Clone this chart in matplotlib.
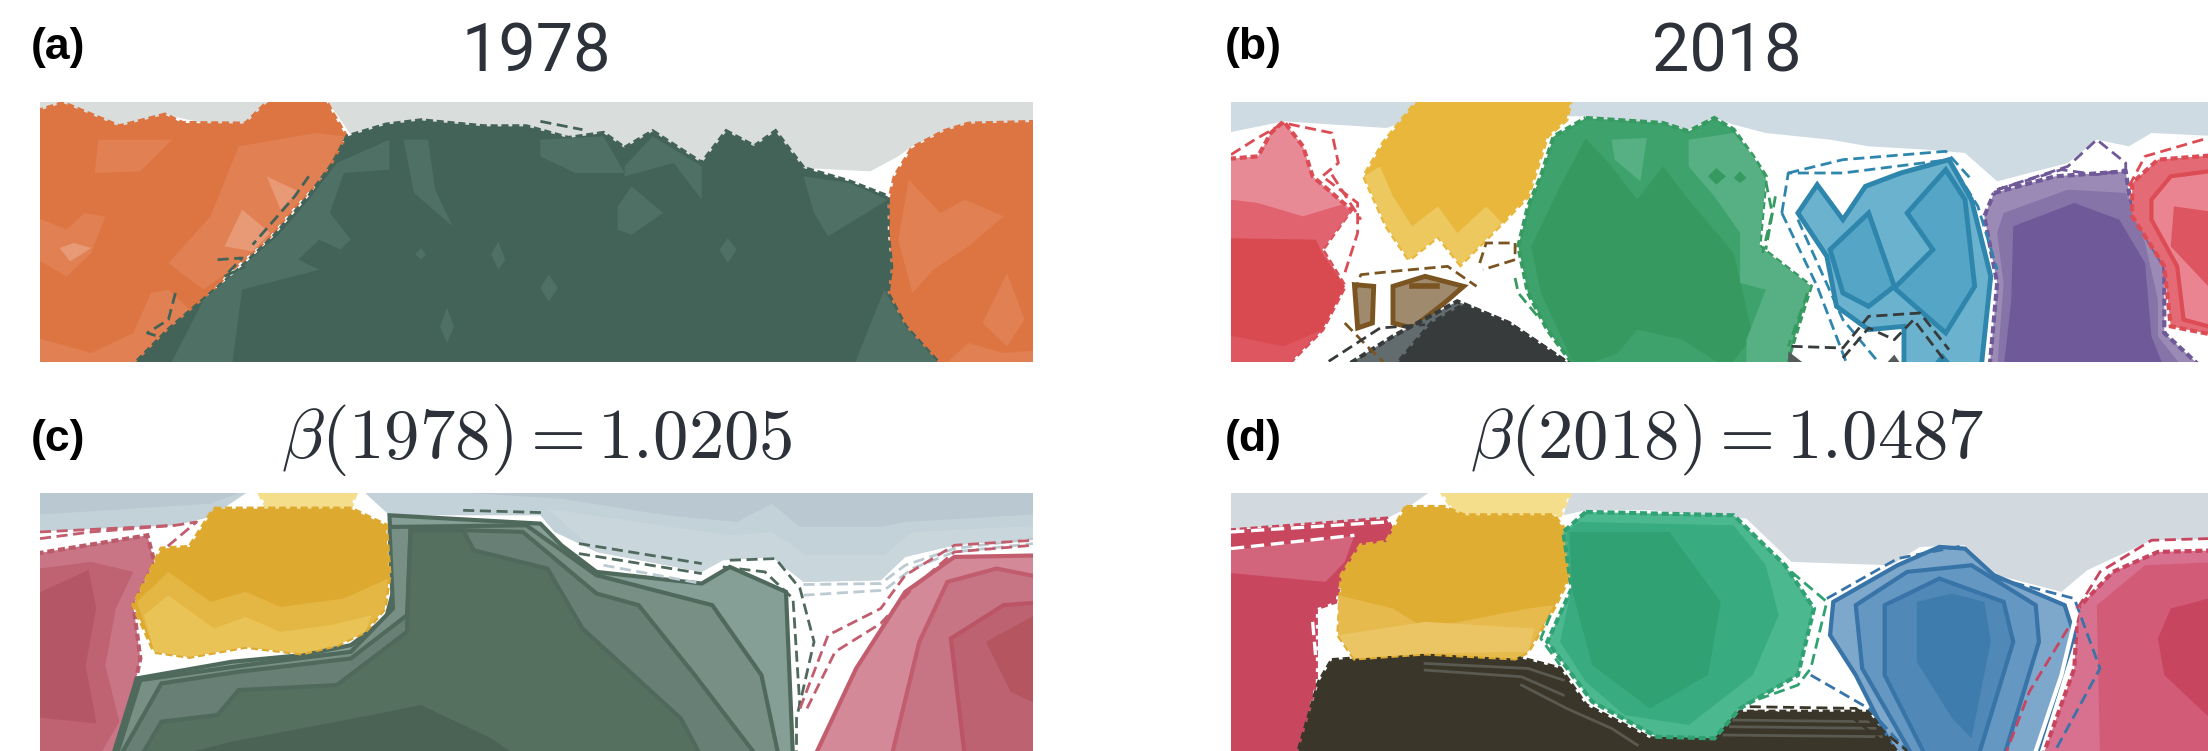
import matplotlib
matplotlib.use("Agg")
import matplotlib.pyplot as plt

plt.rcParams['mathtext.fontset'] = 'cm'

W, H = 2208, 751
TITLES = ["1978", "2018", r"$\beta(1978)=1.0205$", r"$\beta(2018)=1.0487$"]
LABELS = ["(a)", "(b)", "(c)", "(d)"]

# ---- Panel (a) region outlines, map units
A_BAND = [(57,307),(1472,307),(1472,366),(1380,372),(1345,395),(1300,440),(1280,470),(1240,515),(1145,505),(1105,395),(1075,440),(1035,395),(1000,490),(930,395),(890,445),(860,400),(810,415),(750,380),(690,380),(600,362),(550,375),(500,405),(480,345),(460,307)]
A_BAND_L = [(57,307),(460,307),(460,345),(380,310),(350,375),(300,375),(235,345),(170,380),(90,310),(57,345)]
A_ORANGE_L = [(57,345),(90,310),(130,345),(170,380),(235,345),(260,370),(350,372),(380,310),(460,307),(475,345),(492,405),(480,470),(460,530),(420,620),(380,720),(330,810),(290,900),(240,990),(185,1087),(57,1087)]
A_OL_1 = [(57,1005),(130,1060),(190,1000),(215,880),(240,870),(270,930),(240,990),(185,1087),(57,1087)]
A_OL_2 = [(340,440),(450,400),(490,410),(460,530),(420,620),(380,720),(330,810),(290,870),(240,790),(300,650)]
A_OL_3 = [(320,740),(345,630),(385,700),(360,755)]
A_OL_4 = [(380,530),(425,575),(400,630)]
A_OL_5 = [(57,640),(95,690),(120,640),(150,650),(130,760),(95,830),(57,760)]
A_OL_6 = [(85,745),(105,730),(130,745),(100,785)]
A_OL_7 = [(140,420),(245,420),(200,515),(135,520)]
A_GREEN = [(185,1087),(240,990),(290,900),(340,810),(390,710),(440,590),(475,490),(495,410),(550,375),(600,362),(690,380),(750,380),(810,415),(860,400),(890,445),(930,395),(1000,490),(1035,395),(1075,440),(1105,395),(1145,505),(1210,545),(1265,590),(1265,700),(1270,800),(1265,880),(1290,980),(1345,1087)]
A_GL_1 = [(240,1087),(290,900),(340,810),(395,710),(440,600),(480,490),(555,420),(555,510),(490,520),(470,640),(500,720),(455,810),(345,870),(330,1087)]
A_GL_2 = [(425,780),(455,720),(495,760),(455,810)]
A_GL_3 = [(575,420),(610,420),(620,570),(645,680),(590,580)]
A_GL_4 = [(770,420),(860,410),(890,520),(820,520),(770,470)]
A_GL_5 = [(880,620),(900,560),(945,640),(900,705),(880,690)]
A_GL_6 = [(1145,530),(1210,550),(1265,600),(1180,710),(1160,640)]
A_GL_7 = [(1215,1087),(1260,870),(1290,980),(1345,1087)]
A_GL_8 = [(890,500),(930,410),(1000,500),(1000,600),(960,490),(890,530)]
A_GD = [(600,745),(607,765),(600,780),(592,765)]
A_GD2 = [(710,725),(720,780),(710,810),(700,765)]
A_GD3 = [(782,825),(795,865),(782,905),(770,865)]
A_GD4 = [(1037,715),(1050,750),(1037,790),(1025,750)]
A_GD5 = [(637,925),(647,980),(637,1030),(627,980)]
A_ORANGE_R = [(1472,366),(1380,372),(1345,395),(1300,445),(1275,530),(1265,620),(1270,800),(1265,880),(1290,980),(1345,1087),(1472,1087)]
A_OR_1 = [(1295,540),(1340,640),(1375,600),(1430,650),(1380,740),(1330,810),(1300,880),(1280,720)]
A_OR_2 = [(1435,820),(1460,960),(1435,1040),(1400,970)]
A_OR_3 = [(1340,1087),(1380,1030),(1430,1060),(1472,1050),(1472,1087)]
A_DASH_1 = [(770,365),(830,390)]
A_DASH_2 = [(310,780),(345,775),(320,830),(350,800)]
A_DASH_3 = [(440,530),(420,590),(360,735)]
A_DASH_4 = [(250,880),(240,960),(210,1000),(240,1020)]

# ---- Panel (b)
B_BAND = [(48,307),(1568,307),(1568,410),(1480,400),(1445,440),(1395,420),(1350,490),(1240,545),(1190,460),(1130,450),(1040,440),(980,420),(880,400),(830,375),(800,355),(760,390),(600,350),(575,350),(345,350),(290,385),(210,375),(130,365),(48,405)]
B_YELLOW = [(345,307),(578,307),(570,360),(540,410),(525,500),(510,590),(470,670),(405,795),(370,710),(325,780),(290,680),(255,530),(285,430)]
B_YELLOW_L = [(255,530),(290,680),(325,780),(370,710),(405,795),(470,670),(445,620),(400,700),(370,620),(330,680),(300,590),(280,500)]
B_RED_1 = [(48,480),(90,470),(110,400),(130,365),(160,440),(175,530),(235,630),(190,750),(225,860),(190,990),(130,1087),(48,1087)]
B_RED_2 = [(48,595),(90,610),(160,650),(220,615),(235,635),(190,750),(225,860),(190,990),(130,1087),(48,1087)]
B_RED_3 = [(48,715),(180,720),(190,760),(225,860),(190,990),(130,1087),(48,1087)]
B_RED_4 = [(48,1000),(130,1040),(190,990),(130,1087),(48,1087)]
B_RED_DASH_1 = [(48,465),(85,420),(130,370),(205,400),(215,490),(190,530),(245,610),(245,700),(225,820)]
B_RED_DASH_2 = [(205,525),(250,660)]
B_GREEN_1 = [(600,355),(720,370),(760,395),(800,355),(830,390),(860,470),(880,530),(870,740),(950,860),(910,1087),(585,1087),(540,990),(510,880),(495,740),(510,620),(530,530),(550,410)]
B_GREEN_2 = [(600,415),(750,395),(840,620),(870,760),(930,860),(890,1000),(850,1087),(585,1087),(520,880),(505,740),(530,570)]
B_GREEN_3 = [(600,415),(640,500),(680,600),(720,500),(760,600),(830,760),(860,1010),(820,1087),(750,1020),(680,990),(650,1060),(585,1087),(530,880),(515,740),(560,560)]
B_GL_1 = [(760,420),(830,400),(860,470),(880,540),(870,740),(950,860),(930,960),(910,1087),(850,1087),(850,1020),(880,870),(840,850),(840,700),(800,590),(760,500)]
B_GL_2 = [(640,420),(695,415),(685,545),(645,480)]
B_GL_3 = [(803,505),(818,530),(803,555),(790,530)]
B_GL_4 = [(840,515),(850,535),(840,550),(830,535)]
B_GREEN_DASH_1 = [(880,545),(890,640),(875,760)]
B_GREEN_DASH_2 = [(895,590),(880,750)]
B_GREEN_DASH_3 = [(490,835),(495,880),(525,950)]
B_GREEN_DASH_4 = [(945,880),(915,1040)]
B_BLUE = [(960,555),(1000,660),(1035,560),(1090,520),(1165,480),(1200,600),(1230,830),(1215,1087),(1095,1087),(1095,980),(1040,990),(990,920),(975,770),(930,640)]
B_BLUE_D1 = [(1160,510),(1100,640),(1140,750),(1080,865),(1160,1000),(1205,860),(1190,600)]
B_BLUE_D2 = [(1040,640),(980,750),(1000,880),(1040,920),(1080,860)]
B_BLUE_D3 = [(1155,1060),(1135,1087),(1175,1087)]
B_BLUE_DASH_1 = [(905,640),(915,520),(1000,520),(1165,480),(1210,620),(1240,810)]
B_BLUE_DASH_2 = [(915,520),(1000,480),(1160,455),(1200,540)]
B_BLUE_DASH_3 = [(905,640),(960,860),(1005,1087)]
B_BLUE_DASH_4 = [(930,660),(1000,960),(1055,1087)]
B_PURPLE_1 = [(1235,580),(1330,530),(1440,515),(1450,640),(1500,800),(1500,1000),(1560,1087),(1228,1087),(1240,850),(1220,650)]
B_PURPLE_2 = [(1250,640),(1350,570),(1440,580),(1470,730),(1490,900),(1490,1010),(1530,1087),(1240,1087),(1250,850),(1240,700)]
B_PURPLE_3 = [(1265,680),(1360,610),(1430,660),(1470,790),(1480,1010),(1500,1087),(1250,1087),(1262,900)]
B_PURPLE_DASH_1 = [(1240,570),(1350,500),(1395,420),(1440,490),(1440,510),(1395,525),(1340,510),(1240,570)]
B_RED_R_1 = [(1568,465),(1490,480),(1450,550),(1450,650),(1500,800),(1510,980),(1568,1010)]
B_RED_R_2 = [(1568,510),(1510,530),(1480,600),(1480,660),(1520,800),(1530,960),(1568,990)]
B_RED_R_3 = [(1568,640),(1515,620),(1510,740),(1568,900)]
B_RED_R_DASH = [(1445,560),(1470,470),(1568,415)]
B_BROWN_1 = [(240,855),(270,860),(268,970),(245,985)]
B_BROWN_2 = [(300,860),(350,830),(410,860),(380,910),(330,985),(300,970)]
B_BROWN_3 = [(330,860),(368,860)]
B_BROWN_DASH_1 = [(240,880),(250,825),(300,815),(385,800),(430,860)]
B_BROWN_DASH_2 = [(435,790),(445,730),(490,730),(490,780),(440,810)]
B_BROWN_DASH_3 = [(225,970),(260,1040),(285,1087)]
B_SLATE = [(220,1087),(300,1010),(400,905),(480,970),(585,1087)]
B_SLATE_D = [(300,1087),(360,970),(410,915),(480,970),(585,1087)]
B_SLATE_2 = [(915,1087),(915,1055),(950,1087)]
B_SLATE_3 = [(1060,1087),(1080,1065),(1095,1087)]
B_SLATE_DASH_1 = [(200,1085),(280,985),(350,975)]
B_SLATE_DASH_2 = [(920,1040),(1000,1045),(1040,950),(1120,940),(1165,1050)]
B_SLATE_DASH_3 = [(1000,1075),(1040,985),(1080,1020),(1110,960),(1160,1087)]

# ---- Panel (c)
C_BAND = [(57,353),(1472,353),(1472,485),(1360,510),(1290,545),(1255,615),(1145,620),(1100,545),(1030,555),(1000,590),(850,530),(790,470),(770,420),(555,420),(510,353),(365,353),(300,425),(250,450),(57,470)]
C_BAND_D = [(57,353),(1472,353),(1472,415),(1290,440),(1255,455),(1140,455),(1100,385),(1050,440),(950,420),(800,370),(510,353),(365,353),(300,385),(57,420)]
C_BAND_M = [(780,400),(1040,480),(1100,470),(1150,540),(1260,540),(1300,470),(1472,450),(1472,485),(1360,510),(1290,545),(1255,615),(1145,620),(1100,545),(1030,555),(1000,590),(850,530)]
C_Y_TOP = [(365,353),(510,353),(500,395),(380,395)]
C_YELLOW = [(305,400),(500,400),(550,450),(555,600),(548,700),(520,770),(480,810),(430,835),(350,815),(270,845),(220,830),(190,690),(230,520),(270,515)]
C_YELLOW_M = [(195,680),(240,590),(300,680),(350,650),(400,695),(490,670),(553,610),(548,700),(520,770),(480,810),(430,835),(350,815),(270,845),(220,830)]
C_YELLOW_L = [(205,720),(240,660),(305,760),(350,725),(400,770),(470,750),(530,720),(520,770),(480,810),(430,835),(350,815),(270,845),(220,830)]
C_GREEN_1 = [(555,420),(770,445),(800,510),(850,590),(1000,625),(1040,575),(1120,650),(1130,1128),(160,1128),(195,910),(330,860),(430,840),(500,810),(550,730),(560,650)]
C_GREEN_2 = [(555,455),(750,450),(850,600),(1015,690),(1085,900),(1110,1128),(165,1128),(200,915),(350,870),(500,830),(560,700)]
C_GREEN_3 = [(585,460),(745,470),(850,655),(910,690),(990,900),(1080,1128),(170,1128),(230,925),(340,890),(500,850),(580,720)]
C_GREEN_4 = [(585,465),(660,465),(675,525),(780,580),(830,760),(970,1030),(1000,1128),(200,1128),(230,1040),(310,1020),(340,945),(480,930),(580,770)]
C_GREEN_5 = [(240,1128),(330,1100),(530,1020),(600,990),(700,1090),(740,1128)]
C_G_DASH_1 = [(825,505),(1000,565)]
C_G_DASH_2 = [(825,535),(1000,595)]
C_G_DASH_3 = [(1040,555),(1105,550),(1140,640),(1160,800),(1135,1030),(1135,1128)]
C_G_DASH_4 = [(1030,575),(1090,590),(1130,670),(1140,1000)]
C_G_DASH_5 = [(660,405),(775,412)]
C_B_DASH_1 = [(860,570),(1000,625)]
C_B_DASH_2 = [(1145,628),(1255,625),(1290,570),(1360,520),(1472,490)]
C_B_DASH_3 = [(1145,660),(1260,645),(1300,580),(1360,530),(1472,505)]
C_R_DASH_1 = [(1140,1000),(1180,780),(1255,700),(1290,600),(1360,510),(1472,495)]
C_R_DASH_2 = [(1150,1000),(1190,830),(1255,745),(1300,640),(1360,530),(1472,510)]
C_R_DASH_3 = [(57,470),(250,450),(280,440),(235,520)]
C_R_DASH_4 = [(57,490),(130,470),(250,450)]
C_RED_L1 = [(57,540),(210,480),(220,560),(190,690),(200,850),(185,1000),(160,1128),(57,1128)]
C_RED_L2 = [(57,585),(130,560),(190,590),(165,700),(150,870),(170,1040),(140,1128),(57,1128)]
C_RED_L3 = [(57,675),(125,590),(135,700),(120,870),(135,1040),(57,1020)]
C_RED_R1 = [(1160,1128),(1220,880),(1290,650),(1360,545),(1472,540),(1472,1128)]
C_RED_R2 = [(1270,1128),(1310,800),(1350,620),(1420,580),(1472,610),(1472,1128)]
C_RED_R3 = [(1375,1128),(1355,790),(1430,690),(1472,680),(1472,1128)]
C_RED_R4 = [(1472,700),(1405,800),(1440,950),(1472,1000)]

# ---- Panel (d)
D_BAND = [(48,353),(1568,353),(1568,490),(1480,495),(1380,585),(1340,650),(1240,600),(1190,510),(1120,515),(1075,570),(920,560),(850,430),(700,405),(600,405),(565,420),(580,353),(370,353),(320,400),(290,430),(48,465)]
D_Y_TOP = [(370,353),(580,353),(560,420),(400,420)]
D_YELLOW = [(320,395),(380,395),(410,420),(550,420),(570,470),(578,590),(550,700),(510,830),(490,850),(350,835),(240,850),(215,780),(220,600),(250,510),(290,500)]
D_YELLOW_L = [(215,660),(300,700),(350,760),(510,700),(550,690),(510,830),(490,850),(350,835),(240,850),(215,780)]
D_YELLOW_M = [(215,780),(350,740),(520,760),(510,830),(350,835),(240,850)]
D_GREEN_1 = [(600,410),(830,420),(910,570),(955,700),(930,900),(840,1000),(800,1090),(710,1085),(610,980),(575,890),(540,800),(578,640),(565,470)]
D_GREEN_2 = [(590,440),(830,450),(880,570),(900,720),(860,900),(760,1050),(660,1020),(600,920),(560,800),(578,640),(570,470)]
D_GREEN_3 = [(575,470),(730,470),(810,680),(790,900),(700,1000),(610,870),(578,640)]
D_GREEN_DASH_1 = [(920,590),(975,680),(950,880),(930,930),(850,985)]
D_GREEN_DASH_2 = [(545,720),(530,790),(560,870)]
D_BLACK = [(205,855),(350,835),(500,850),(560,880),(600,990),(700,1090),(800,1090),(840,1010),(1040,1010),(1090,1128),(150,1128),(185,920)]
D_STRIPE_1 = [(350,865),(510,880),(565,915)]
D_STRIPE_2 = [(350,885),(500,905),(565,960)]
D_STRIPE_3 = [(500,930),(570,1000),(640,1060),(680,1110)]
D_STRIPE_4 = [(830,1035),(1040,1040)]
D_STRIPE_5 = [(825,1055),(1050,1060)]
D_STRIPE_6 = [(815,1080),(1060,1085)]
D_BLACK_DASH_1 = [(855,995),(1020,1000),(1100,1128)]
D_BLACK_DASH_2 = [(855,1010),(1010,1020),(1080,1128)]
D_BLUE_1 = [(985,680),(1085,570),(1150,515),(1190,520),(1235,600),(1345,690),(1360,780),(1300,1128),(1085,1128),(1020,900),(980,780)]
D_BLUE_2 = [(1020,690),(1100,590),(1200,570),(1300,690),(1305,800),(1250,1128),(1110,1128),(1030,880)]
D_BLUE_3 = [(1065,690),(1150,610),(1250,680),(1265,800),(1210,1128),(1130,1128),(1065,900)]
D_BLUE_4 = [(1115,680),(1170,655),(1220,680),(1230,800),(1200,1090),(1170,1030),(1115,860)]
D_BLUE_DASH_1 = [(975,670),(1085,550),(1190,510)]
D_BLUE_DASH_2 = [(1240,610),(1360,670),(1400,880),(1330,1128)]
D_BLUE_DASH_3 = [(950,900),(1040,1000),(1100,1128)]
D_RED_DASH_1 = [(1350,760),(1290,950),(1255,1128)]
D_RED_DASH_2 = [(1365,700),(1400,590),(1480,495),(1568,490)]
D_WHITE_EDGE = [(1365,700),(1340,900),(1300,1128)]
D_RED_L1 = [(48,468),(290,430),(300,470),(290,500),(250,510),(220,600),(210,680),(180,700),(180,920),(150,1128),(48,1128)]
D_RED_L2 = [(48,530),(210,490),(240,480),(225,560),(195,620),(48,590)]
D_RED_DASH_3 = [(48,470),(290,440)]
D_RED_DASH_4 = [(48,520),(240,480)]
D_RED_DASH_5 = [(175,740),(180,850)]
D_RED_R1 = [(1310,1128),(1360,880),(1365,700),(1420,590),(1490,530),(1568,525),(1568,1128)]
D_RED_R2 = [(1400,1128),(1395,690),(1470,570),(1568,560),(1568,1128)]
D_RED_R3 = [(1500,900),(1490,790),(1510,700),(1568,660),(1568,1060)]


def px_axes(x0, y0, x1, y1, xlim, ylim):
    ax = fig.add_axes([x0 / W, 1 - y1 / H, (x1 - x0) / W, (y1 - y0) / H])
    ax.set_xlim(*xlim)
    ax.set_ylim(*ylim)
    ax.axis('off')
    return ax


def bleed(ax, pts):
    """Push points lying on the panel frame outwards so edges are clipped away."""
    x0, x1 = ax.get_xlim()
    y1, y0 = ax.get_ylim()
    out = []
    for x, y in pts:
        x = x0 - 20 if x <= x0 else x1 + 20 if x >= x1 else x
        y = y0 - 20 if y <= y0 else y1 + 20 if y >= y1 else y
        out.append((x, y))
    return out


def poly(ax, pts, fc, edge=None, lw=3.0, ls=(0, (1.7, 0.9))):
    xs, ys = zip(*bleed(ax, pts))
    if edge:
        ax.fill(xs, ys, facecolor=fc, edgecolor=edge, linewidth=lw, linestyle=ls)
    else:
        ax.fill(xs, ys, facecolor=fc, edgecolor='none', linewidth=0)


def line(ax, pts, color, lw=2.0, ls=(0, (4, 2)), z=5):
    xs, ys = zip(*pts)
    ax.plot(xs, ys, color=color, lw=lw, ls=ls, zorder=z, solid_joinstyle='miter')


SOLID = '-'
fig = plt.figure(figsize=(W / 100, H / 100), dpi=100, facecolor='white')

# (a)
ax = px_axes(40, 102, 1033, 362, (57, 1472), (1087, 307))
gray = '#d9dddc'
poly(ax, A_BAND, gray)
poly(ax, A_BAND_L, gray)
orange, o2, o3 = '#dd7543', '#e18052', '#e89a76'
green, g2 = '#446358', '#4f7064'
poly(ax, A_ORANGE_L, orange, orange)
for p in (A_OL_1, A_OL_2, A_OL_5, A_OL_7):
    poly(ax, p, o2)
for p in (A_OL_3, A_OL_4, A_OL_6):
    poly(ax, p, o3)
poly(ax, A_ORANGE_R, orange, orange)
for p in (A_OR_1, A_OR_2, A_OR_3):
    poly(ax, p, o2)
poly(ax, A_GREEN, green, green)
for p in (A_GL_1, A_GL_3, A_GL_4, A_GL_5, A_GL_6, A_GL_7, A_GL_8):
    poly(ax, p, g2)
poly(ax, A_GL_2, green)
for p in (A_GD, A_GD2, A_GD3, A_GD4, A_GD5):
    poly(ax, p, g2)
for p in (A_DASH_1, A_DASH_2, A_DASH_3, A_DASH_4):
    line(ax, p, green)

# (b)
ax = px_axes(1231, 102, 2208, 362, (48, 1568), (1087, 307))
poly(ax, B_BAND, '#cfdbe2')
poly(ax, B_YELLOW, '#e8b73c', '#e8b73c')
poly(ax, B_YELLOW_L, '#ecc85f')
poly(ax, B_RED_1, '#e88a96', '#dc4c55')
poly(ax, B_RED_2, '#e0636f')
poly(ax, B_RED_3, '#d94a50')
poly(ax, B_RED_4, '#dd5660')
for p in (B_RED_DASH_1, B_RED_DASH_2):
    line(ax, p, '#dc4c55')
poly(ax, B_GREEN_1, '#3ea26c', '#379a60')
poly(ax, B_GREEN_2, '#3ea26c')
poly(ax, B_GREEN_3, '#369a60')
for p in (B_GL_1, B_GL_2):
    poly(ax, p, '#56b083')
for p in (B_GL_3, B_GL_4):
    poly(ax, p, '#369a60')
for p in (B_GREEN_DASH_1, B_GREEN_DASH_2, B_GREEN_DASH_3, B_GREEN_DASH_4):
    line(ax, p, '#379a60')
poly(ax, B_BLUE, '#6bb2cf', '#2e86ad', 3.5, SOLID)
for p in (B_BLUE_D1, B_BLUE_D2):
    poly(ax, p, '#55a5c6', '#2e86ad', 3.5, SOLID)
poly(ax, B_BLUE_D3, '#2e86ad')
for p in (B_BLUE_DASH_1, B_BLUE_DASH_2, B_BLUE_DASH_3, B_BLUE_DASH_4):
    line(ax, p, '#2e86ad')
poly(ax, B_PURPLE_1, '#9a8ab5', '#6f5998')
poly(ax, B_PURPLE_2, '#8673a8')
poly(ax, B_PURPLE_3, '#6f5998')
line(ax, B_PURPLE_DASH_1, '#6f5998')
poly(ax, B_RED_R_1, '#e46a76', '#dc4c55')
poly(ax, B_RED_R_2, '#e98490', '#dc4c55', 3, SOLID)
poly(ax, B_RED_R_3, '#dd5560')
line(ax, B_RED_R_DASH, '#dc4c55')
for p in (B_BROWN_1, B_BROWN_2):
    poly(ax, p, '#a08a6e', '#7a5521', 3.5, SOLID)
line(ax, B_BROWN_3, '#7a5521', 4, SOLID)
for p in (B_BROWN_DASH_1, B_BROWN_DASH_2, B_BROWN_DASH_3):
    line(ax, p, '#7a5521')
poly(ax, B_SLATE, '#626c6e', '#373b3b')
poly(ax, B_SLATE_D, '#373b3b', '#373b3b')
for p in (B_SLATE_2, B_SLATE_3):
    poly(ax, p, '#555b5c')
for p in (B_SLATE_DASH_1, B_SLATE_DASH_2, B_SLATE_DASH_3):
    line(ax, p, '#373b3b')

# (c)
ax = px_axes(40, 493, 1033, 751, (57, 1472), (1128, 353))
poly(ax, C_BAND, '#c3d1d8')
poly(ax, C_BAND_D, '#b9c8d1')
poly(ax, C_BAND_M, '#c9d6dc')
poly(ax, C_RED_L1, '#c97585', '#bb5a69')
poly(ax, C_RED_L2, '#bf6272')
poly(ax, C_RED_L3, '#b55666', '#b55666', 2, SOLID)
poly(ax, C_RED_R1, '#d48999', '#c25d6e', 3, SOLID)
poly(ax, C_RED_R2, '#c77484', '#c25d6e', 3, SOLID)
poly(ax, C_RED_R3, '#bd6270', '#bb5565', 3, SOLID)
poly(ax, C_RED_R4, '#b55560')
poly(ax, C_GREEN_1, '#869f96', '#4f6a5d', 3, SOLID)
poly(ax, C_GREEN_2, '#788f86', '#4f6a5d', 3, SOLID)
poly(ax, C_GREEN_3, '#677f74', '#4f6a5d', 3, SOLID)
poly(ax, C_GREEN_4, '#55705f', '#4f6a5d', 3, SOLID)
poly(ax, C_GREEN_5, '#4b6354')
poly(ax, C_Y_TOP, '#f5de8b', '#f5de8b')
poly(ax, C_YELLOW, '#dea92f', '#dea92f')
poly(ax, C_YELLOW_M, '#e4b643')
poly(ax, C_YELLOW_L, '#e9c355')
for p in (C_G_DASH_1, C_G_DASH_2, C_G_DASH_3, C_G_DASH_4, C_G_DASH_5):
    line(ax, p, '#4f6a5d')
for p in (C_B_DASH_1, C_B_DASH_2, C_B_DASH_3):
    line(ax, p, '#bccad2')
for p in (C_R_DASH_1, C_R_DASH_2, C_R_DASH_3, C_R_DASH_4):
    line(ax, p, '#c25d6e')

# (d)
ax = px_axes(1231, 493, 2208, 751, (48, 1568), (1128, 353))
poly(ax, D_BAND, '#d2dae0')
poly(ax, D_RED_L1, '#c9465f', '#c9465f')
poly(ax, D_RED_L2, '#d2647c')
for p in (D_RED_DASH_3, D_RED_DASH_4, D_RED_DASH_5):
    line(ax, p, '#ffffff', 2.4)
poly(ax, D_RED_R1, '#d87090', '#c84560')
poly(ax, D_RED_R2, '#d25c78')
poly(ax, D_RED_R3, '#c84560')
line(ax, D_WHITE_EDGE, '#ffffff', 3, SOLID)
poly(ax, D_BLUE_1, '#7da8cc', '#3874a8', 3, SOLID)
poly(ax, D_BLUE_2, '#6498c2', '#3874a8', 3, SOLID)
poly(ax, D_BLUE_3, '#5088b8', '#3874a8', 3, SOLID)
poly(ax, D_BLUE_4, '#3f7cae')
for p in (D_BLUE_DASH_1, D_BLUE_DASH_2, D_BLUE_DASH_3):
    line(ax, p, '#3874a8')
for p in (D_RED_DASH_1, D_RED_DASH_2):
    line(ax, p, '#c84560')
poly(ax, D_BLACK, '#3a362a', '#3a362a')
for p in (D_STRIPE_1, D_STRIPE_2, D_STRIPE_3, D_STRIPE_4, D_STRIPE_5, D_STRIPE_6):
    line(ax, p, '#5a5a50', 2, SOLID, 2)
for p in (D_BLACK_DASH_1, D_BLACK_DASH_2):
    line(ax, p, '#3a362a')
poly(ax, D_Y_TOP, '#f5de8b', '#f5de8b')
poly(ax, D_YELLOW, '#e0ad33', '#e0ad33')
poly(ax, D_YELLOW_L, '#e6ba4c')
poly(ax, D_YELLOW_M, '#ebc464')
poly(ax, D_GREEN_1, '#4cb890', '#2fa172')
poly(ax, D_GREEN_2, '#38ab80')
poly(ax, D_GREEN_3, '#2fa172')
for p in (D_GREEN_DASH_1, D_GREEN_DASH_2):
    line(ax, p, '#2fa172')

TITLE_X = [536, 1727, 537, 1727]
TITLE_Y = [53, 53, 440, 440]
LABEL_X = [31, 1225, 31, 1225]
LABEL_Y = [47, 47, 439, 439]
for i in range(4):
    if i < 2:
        fig.text(TITLE_X[i] / W, 1 - TITLE_Y[i] / H, TITLES[i], ha='center', va='center',
                 fontsize=48, family='Roboto', color='#2d313a')
    else:
        fig.text(TITLE_X[i] / W, 1 - TITLE_Y[i] / H, TITLES[i], ha='center', va='center',
                 fontsize=51, color='#2d313a')
    fig.text(LABEL_X[i] / W, 1 - LABEL_Y[i] / H, LABELS[i], ha='left', va='center',
             fontsize=32, family='Liberation Sans', fontweight='bold', color='black')

fig.savefig('out.png', dpi=100)
